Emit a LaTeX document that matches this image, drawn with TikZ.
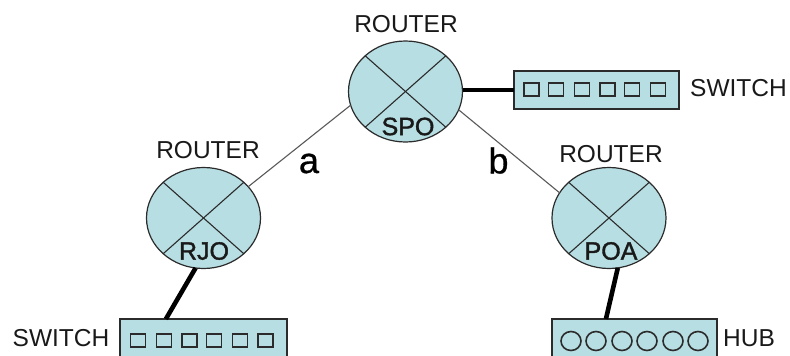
\documentclass[tikz,border=0pt]{standalone}
\usepackage{fontspec}
\setmainfont{Liberation Sans}
\usetikzlibrary{shapes.geometric}
\definecolor{devfill}{HTML}{B7DEE2}
\definecolor{devline}{HTML}{2B2B2B}
\tikzset{
  routerdisc/.style={ellipse,draw=devline,fill=devfill,line width=1.2pt,minimum width=114pt,minimum height=101pt,inner sep=0pt,outer sep=0pt},
  devbox/.style={rectangle,draw=devline,fill=devfill,line width=1.5pt,inner sep=0pt,outer sep=0pt},
  crossline/.style={draw=devline,line width=1.1pt},
  portbox/.style={rectangle,draw=devline,line width=1.8pt,minimum width=15pt,minimum height=13pt,inner sep=0pt},
  portring/.style={ellipse,draw=devline,line width=1.6pt,minimum width=20pt,minimum height=19pt,inner sep=0pt},
  lbl/.style={font=\fontsize{24.5}{26}\selectfont,inner sep=0pt,text=black!90},
  site/.style={font=\fontsize{25}{26}\selectfont\addfontfeature{FakeBold=1.5},inner sep=0pt,text=black!90},
  letter/.style={font=\fontsize{36}{38}\selectfont\addfontfeature{FakeBold=0.8},inner sep=0pt,text=black},
  linka/.style={draw=black!65,line width=1.1pt},
  thick link/.style={draw=black,line width=4.6pt},
}
\begin{document}
\begin{tikzpicture}[x=1pt,y=-1pt]
\clip (0,0) rectangle (790,356);
% routers
\node[routerdisc] (spo) at (405.5,91.5) {};
\node[routerdisc] (rjo) at (203.5,218) {};
\node[routerdisc] (poa) at (609,218) {};
\foreach \r in {spo,rjo,poa}{
  \draw[crossline] (\r.north west) -- (\r.south east);
  \draw[crossline] (\r.north east) -- (\r.south west);
}
% devices
\node[devbox,minimum width=165pt,minimum height=38pt] (swa) at (596.5,90) {};
\node[devbox,minimum width=167pt,minimum height=40pt] (swb) at (203.5,339) {};
\node[devbox,minimum width=165pt,minimum height=40pt] (hub) at (634.5,339) {};
\foreach \i/\x in {1/531.5,2/556,3/582,4/607.5,5/632,6/658}
  \node[portbox] (pa\i) at (\x,89.5) {};
\foreach \i/\x in {1/138,2/164,3/189.5,4/214,5/240,6/265.5}
  \node[portbox] (pb\i) at (\x,340.5) {};
\foreach \i/\x in {1/571,2/596,3/622,4/647,5/673,6/698}
  \node[portring] (ph\i) at (\x,341) {};
% links
\draw[linka] (spo.194) -- (rjo.35);
\draw[linka] (spo.-19) -- (poa.153);
\draw[thick link] (spo.east |- swa.west) -- (swa.west);
\draw[thick link] (rjo.261) -- (swb.152.5);
\draw[thick link] (poa.280) -- (hub.145);
% labels
\node[lbl] (l1) at (406,24) {ROUTER};
\node[lbl] (l2) at (208,150.5) {ROUTER};
\node[lbl] (l3) at (611,154.5) {ROUTER};
\node[lbl] (l4) at (738.5,88) {SWITCH};
\node[lbl] (l5) at (61,338.5) {SWITCH};
\node[lbl] (l6) at (749,338.5) {HUB};
\node[site] (n1) at (408,126.5) {SPO};
\node[site] (n2) at (204,251) {RJO};
\node[site] (n3) at (611,251) {POA};
\node[letter] (la) at (309,163.5) {a};
\node[letter] (lb) at (498.5,160.5) {b};
\end{tikzpicture}
\end{document}
